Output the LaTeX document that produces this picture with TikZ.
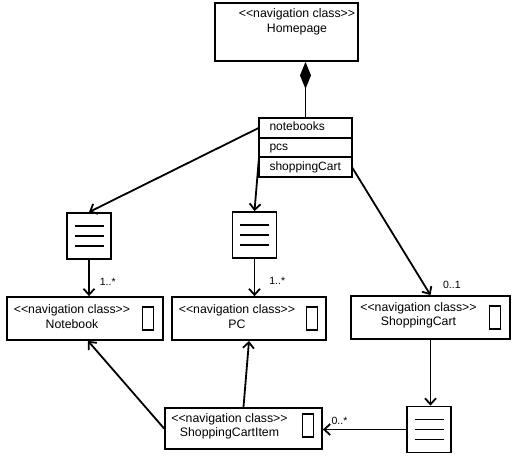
\documentclass[tikz,border=0pt]{standalone}
\usepackage{fontspec}
\setmainfont{Liberation Sans}
\usetikzlibrary{%
  arrows.meta,%
  positioning,% wg. " of "
  shapes%
}

\begin{document}
\begin{tikzpicture}
[x=1pt, y=-1pt, line width=1.8pt, >={Straight Barb[length=6pt,width=11pt]},
navclass/.style={rectangle, draw, inner sep=0pt},
navtext/.style={align=center, inner sep=0pt, font=\fontsize{12.3}{14.5}\selectfont},
icon/.style={rectangle, draw, inner sep=0pt, minimum width=11pt, minimum height=23pt},
attr/.style={rectangle, draw, outer sep=0pt, inner ysep=0pt, inner xsep=10.5pt, text width=72pt,
  text height=9pt, text depth=3pt, minimum height=19.7pt, font=\fontsize{12}{14}\selectfont},
index/.style={rectangle, draw, minimum width=44pt, minimum height=46pt,
  path picture={\foreach \dy in {-10,0,10}
    \draw[line width=1.4pt] ([shift={(-14.5pt,\dy pt)}]path picture bounding box.center) -- ++(29pt,0pt);}},
mult/.style={inner sep=1pt, font=\fontsize{10.5}{12}\selectfont}]

\useasboundingbox (0,0) rectangle (523,457);

\node[navclass, minimum width=143pt, minimum height=58pt] (homepage) at (286.5,32) {};
\node[navtext] (homepagetext) at (297,22) {<{}<navigation class>{}>\\Homepage};

\node[attr] (notebooks) at (305.5,127.8) {notebooks};
\node[attr, below=0pt of notebooks] (pcs) {pcs};
\node[attr, below=0pt of pcs] (shoppingcart) {shoppingCart};
\draw[{Diamond[length=27pt,width=11pt]}-] (homepage.south -| notebooks.north) -- (notebooks.north);

\node[index] (index1) at (89,236) {};
\node[index] (index2) at (254.5,235) {};
\path (notebooks.west) edge[->] (index1.north);
\path (pcs.south west) edge[->] (index2.north);

\node[navclass, minimum width=156pt, minimum height=43pt] (notebook) at (85,318.5) {};
\node[navtext] (notebooktext) at ([xshift=-13pt,yshift=2pt]notebook.center) {<{}<navigation class>{}>\\Notebook};
\node[icon] (notebookicon) at ([xshift=-16pt]notebook.east) {};

\node[navclass, minimum width=154pt, minimum height=43pt] (pc) at (249,318.5) {};
\node[navtext] (pctext) at ([xshift=-12pt,yshift=2pt]pc.center) {<{}<navigation class>{}>\\PC};
\node[icon] (pcicon) at ([xshift=-15pt]pc.east) {};

\node[navclass, minimum width=159pt, minimum height=43pt] (cart) at (430.5,317.5) {};
\node[navtext] (carttext) at ([xshift=-12pt,yshift=2pt]cart.center) {<{}<navigation class>{}>\\ShoppingCart};
\node[icon] (carticon) at ([xshift=-16pt]cart.east) {};

\node[navclass, minimum width=157pt, minimum height=41pt] (cartitem) at (243.5,428.5) {};
\node[navtext] (cartitemtext) at ([xshift=-14pt,yshift=2pt]cartitem.center) {<{}<navigation class>{}>\\ShoppingCartItem};
\node[icon] (cartitemicon) at ([xshift=-15pt,yshift=3pt]cartitem.east) {};

\node[index] (index3) at (429,429.5) {};

\path (index1.south) edge[->] node[mult, pos=0.6, right=9pt] (mult1) {1..*} (index1.south |- notebook.north);
\path (index2.south) edge[->] node[mult, pos=0.6, right=13pt] (mult2) {1..*} (index2.south |- pc.north);
\path (shoppingcart.east) edge[->] node[mult, pos=0.92, right=17pt] (mult3) {0..1} (cart.north);
\path (cart.south) edge[->] (cart.south |- index3.north);
\path (index3.west) edge[->] node[mult, pos=0.8, above=3pt] (mult4) {0..*} (index3.west -| cartitem.east);
\path (cartitem.north) edge[->] (pc.south);
\path (cartitem.west) edge[->] ([xshift=3pt]notebook.south);
\end{tikzpicture}
\end{document}
